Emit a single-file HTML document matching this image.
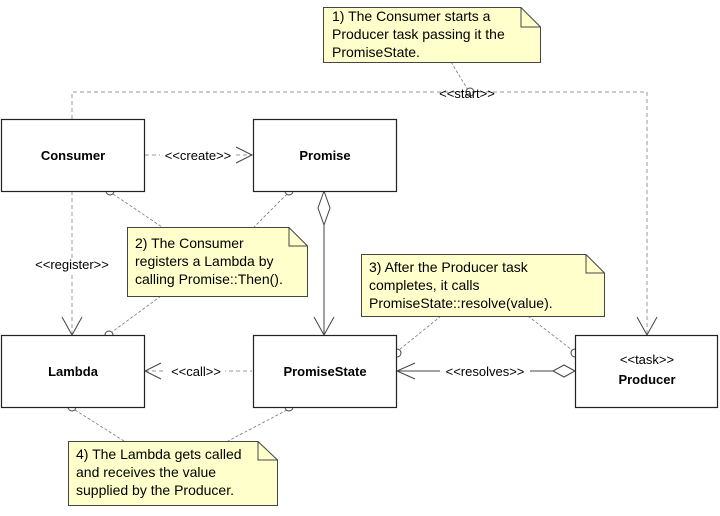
<!DOCTYPE html>
<html><head><style>
body{margin:0;background:#fff}
svg text{font-family:"Liberation Sans",sans-serif;font-size:13px;fill:#000}
.b{font-weight:bold}
.n{font-size:14px}
</style></head><body>
<svg width="720" height="511" xmlns="http://www.w3.org/2000/svg">
<g fill="none" stroke="#999" stroke-dasharray="4,3">
<polyline points="72,119 72,92 647,92 647,335"/>
<line x1="72" y1="191" x2="72" y2="335"/>
<line x1="145" y1="155" x2="252" y2="155"/>
<line x1="145" y1="371" x2="252" y2="371"/>
</g>
<g fill="none" stroke="#777" stroke-dasharray="3,2" stroke-width="0.8">
<line x1="451" y1="62" x2="468" y2="90"/>
<line x1="113" y1="194" x2="162" y2="227"/>
<line x1="287" y1="194" x2="254" y2="227"/>
<line x1="161" y1="296" x2="112" y2="332"/>
<line x1="441" y1="316" x2="399" y2="350"/>
<line x1="528" y1="316" x2="572" y2="350"/>
<line x1="75" y1="410" x2="124" y2="441"/>
<line x1="287" y1="410" x2="228" y2="441"/>
</g>
<g fill="none" stroke="#444" stroke-width="1">
<polyline points="62,317 72,335 82,317"/>
<polyline points="637,317 647,335 657,317"/>
<polyline points="236,147 252,155 236,163"/>
<polyline points="161,363 145,371 161,379"/>
<line x1="324" y1="225" x2="324" y2="335"/>
<polyline points="314,317 324,335 334,317"/>
<polygon points="324,191 330,208 324,225 318,208" fill="#fff"/>
<line x1="397" y1="371" x2="553" y2="371"/>
<polyline points="415,363 397,371 415,379"/>
<polygon points="575,371 564,365 553,371 564,377" fill="#fff"/>
</g>
<g fill="#fff" stroke="#444">
<circle cx="470" cy="92" r="4"/>
<circle cx="110" cy="191" r="4"/>
<circle cx="289" cy="191" r="4"/>
<circle cx="109" cy="335" r="4"/>
<circle cx="397" cy="353" r="4"/>
<circle cx="575" cy="353" r="4"/>
<circle cx="72" cy="407" r="4"/>
<circle cx="289" cy="407" r="4"/>
</g>
<g fill="#fff" stroke="#222" stroke-width="1.2">
<rect x="1.5" y="119.5" width="143" height="72"/>
<rect x="253.5" y="119.5" width="143" height="72"/>
<rect x="1.5" y="335.5" width="143" height="72"/>
<rect x="253.5" y="335.5" width="143" height="72"/>
<rect x="575.5" y="335.5" width="142" height="72"/>
</g>
<g fill="#ffffcc" stroke="#444">
<path d="M323.5,7.5 H521 L540.5,27 V62.5 H323.5 Z"/><path d="M521,7.5 V27 H540.5" fill="none"/>
<path d="M127.5,227.5 H289 L307.5,246 V296.5 H127.5 Z"/><path d="M289,227.5 V246 H307.5" fill="none"/>
<path d="M361.5,254.5 H586 L604.5,273 V316.5 H361.5 Z"/><path d="M586,254.5 V273 H604.5" fill="none"/>
<path d="M68.5,441.5 H258 L277.5,460 V505.5 H68.5 Z"/><path d="M258,441.5 V460 H277.5" fill="none"/>
</g>
<g fill="#fff"><rect x="160" y="148" width="76" height="14"/><rect x="163" y="364" width="62" height="14"/><rect x="440" y="364" width="90" height="14"/><rect x="28" y="258" width="88" height="14"/></g>
<text x="467" y="98" text-anchor="middle">&lt;&lt;start&gt;&gt;</text>
<text x="198" y="160" text-anchor="middle">&lt;&lt;create&gt;&gt;</text>
<text x="196" y="376" text-anchor="middle">&lt;&lt;call&gt;&gt;</text>
<text x="485" y="376" text-anchor="middle">&lt;&lt;resolves&gt;&gt;</text>
<text x="72" y="269" text-anchor="middle">&lt;&lt;register&gt;&gt;</text>
<text class="b" x="73" y="160" text-anchor="middle">Consumer</text>
<text class="b" x="325" y="160" text-anchor="middle">Promise</text>
<text class="b" x="73" y="376" text-anchor="middle">Lambda</text>
<text class="b" x="325" y="376" text-anchor="middle">PromiseState</text>
<text x="647" y="364" text-anchor="middle">&lt;&lt;task&gt;&gt;</text>
<text class="b" x="647" y="384" text-anchor="middle">Producer</text>
<text class="n" x="332" y="21">1) The Consumer starts a</text>
<text class="n" x="332" y="39">Producer task passing it the</text>
<text class="n" x="332" y="57">PromiseState.</text>
<text class="n" x="135" y="248">2) The Consumer</text>
<text class="n" x="135" y="266">registers a Lambda by</text>
<text class="n" x="135" y="284">calling Promise::Then().</text>
<text class="n" x="369" y="272">3) After the Producer task</text>
<text class="n" x="369" y="290">completes, it calls</text>
<text class="n" x="369" y="308">PromiseState::resolve(value).</text>
<text class="n" x="76" y="459">4) The Lambda gets called</text>
<text class="n" x="76" y="477">and receives the value</text>
<text class="n" x="76" y="495">supplied by the Producer.</text>
</svg>
</body></html>
